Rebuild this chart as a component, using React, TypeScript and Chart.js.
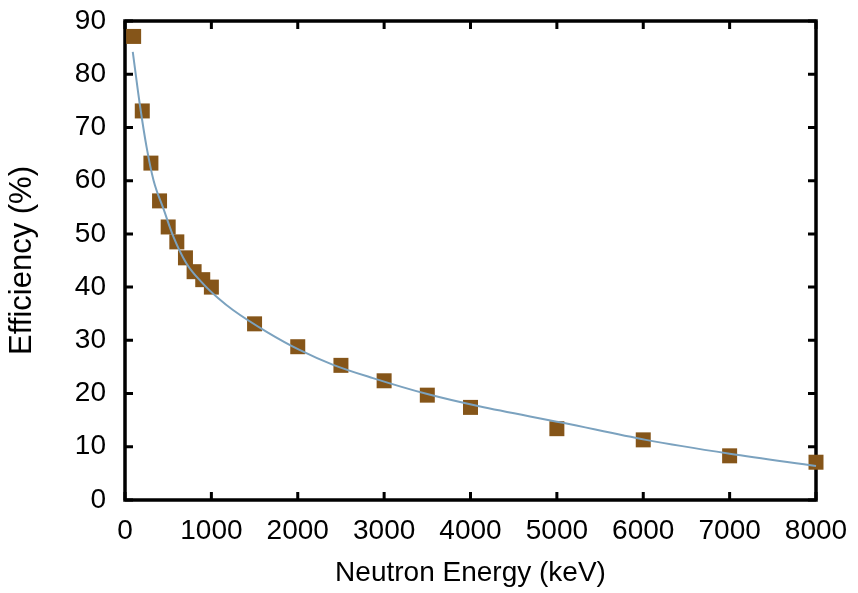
import React, { useEffect, useRef } from "react";
import { Chart, registerables } from "chart.js";

Chart.register(...registerables);

const energies = [100, 200, 300, 400, 500, 600, 700, 800, 900, 1000, 1500, 2000, 2500, 3000, 3500, 4000, 5000, 6000, 7000, 8000];
const efficiencies = [87.1, 73.1, 63.3, 56.2, 51.3, 48.5, 45.5, 42.9, 41.4, 40.0, 33.1, 28.8, 25.3, 22.4, 19.7, 17.4, 13.4, 11.3, 8.3, 7.1];

const fitEnergies = [90, 170, 250, 330, 450, 560, 710, 900, 1080, 1250, 1640, 2020, 2410, 2870, 3500, 4100, 5070, 6030, 7000, 8000];
const fitEfficiencies = [84.2, 74.5, 66.3, 60.1, 54.5, 49.5, 44.5, 40.7, 37.9, 35.7, 31.6, 28.2, 25.4, 22.9, 19.9, 17.6, 14.5, 11.3, 8.7, 6.4];

const xTitle = "Neutron Energy (keV)";
const yTitle = "Efficiency (%)";

const FONT = "'Liberation Sans', Arial, Helvetica, sans-serif";

const frameTicks = {
  id: "frameTicks",
  beforeDatasetsDraw(chart: any) {
    const { ctx, chartArea } = chart;
    const { left, right, top, bottom } = chartArea;
    const xs = chart.scales.x;
    const ys = chart.scales.y;
    const len = 8;
    ctx.save();
    ctx.strokeStyle = "#000";
    ctx.lineWidth = 3;
    ctx.beginPath();
    xs.ticks.forEach((t: any) => {
      const px = xs.getPixelForValue(t.value);
      ctx.moveTo(px, bottom);
      ctx.lineTo(px, bottom - len);
      ctx.moveTo(px, top);
      ctx.lineTo(px, top + len);
    });
    ys.ticks.forEach((t: any) => {
      const py = ys.getPixelForValue(t.value);
      ctx.moveTo(left, py);
      ctx.lineTo(left + len, py);
      ctx.moveTo(right, py);
      ctx.lineTo(right - len, py);
    });
    ctx.stroke();
    ctx.lineWidth = 3.5;
    ctx.strokeRect(left, top, right - left, bottom - top);
    ctx.restore();
  },
};

export default function App() {
  const ref = useRef<HTMLCanvasElement | null>(null);

  useEffect(() => {
    document.body.style.margin = "0";
    const canvas = ref.current;
    if (!canvas) return;
    const chart = new Chart(canvas, {
      type: "scatter",
      data: {
        datasets: [
          {
            type: "line",
            label: "fit",
            data: fitEnergies.map((x, i) => ({ x, y: fitEfficiencies[i] })),
            borderColor: "#7ba2bf",
            borderWidth: 2,
            pointRadius: 0,
            tension: 0.4,
            cubicInterpolationMode: "monotone",
            fill: false,
            clip: false,
          } as any,
          {
            label: "data",
            data: energies.map((x, i) => ({ x, y: efficiencies[i] })),
            backgroundColor: "#855519",
            borderColor: "#855519",
            borderWidth: 0,
            pointStyle: "rect",
            pointRadius: 10.6,
            pointHoverRadius: 10.6,
            clip: false,
          } as any,
        ],
      },
      options: {
        responsive: false,
        animation: false,
        devicePixelRatio: 1,
        layout: { padding: { top: 21, right: 42, bottom: 0, left: 0 } },
        plugins: {
          legend: { display: false },
          tooltip: { enabled: false },
        },
        scales: {
          x: {
            type: "linear",
            min: 0,
            max: 8000,
            afterFit: (s: any) => {
              s.height = 93;
              s.paddingLeft = 0;
              s.paddingRight = 0;
            },
            grid: { display: false, drawTicks: false },
            border: { display: false },
            ticks: {
              stepSize: 1000,
              color: "#000",
              padding: 14,
              maxRotation: 0,
              font: { family: FONT, size: 28 },
              callback: (v: any) => String(v),
            },
            title: {
              display: true,
              text: xTitle,
              color: "#000",
              font: { family: FONT, size: 28 },
              padding: { top: 0, bottom: 3 },
            },
          },
          y: {
            type: "linear",
            min: 0,
            max: 90,
            afterFit: (s: any) => {
              s.width = 125;
              s.paddingTop = 0;
              s.paddingBottom = 0;
            },
            grid: { display: false, drawTicks: false },
            border: { display: false },
            ticks: {
              stepSize: 10,
              color: "#000",
              padding: 19,
              font: { family: FONT, size: 28 },
              callback: (v: any) => String(v),
            },
            title: {
              display: true,
              text: yTitle,
              color: "#000",
              font: { family: FONT, size: 31 },
              padding: { top: 4, bottom: 0 },
            },
          },
        },
      },
      plugins: [frameTicks],
    });
    return () => chart.destroy();
  }, []);

  return <canvas ref={ref} width={858} height={593} style={{ display: "block" }} />;
}
